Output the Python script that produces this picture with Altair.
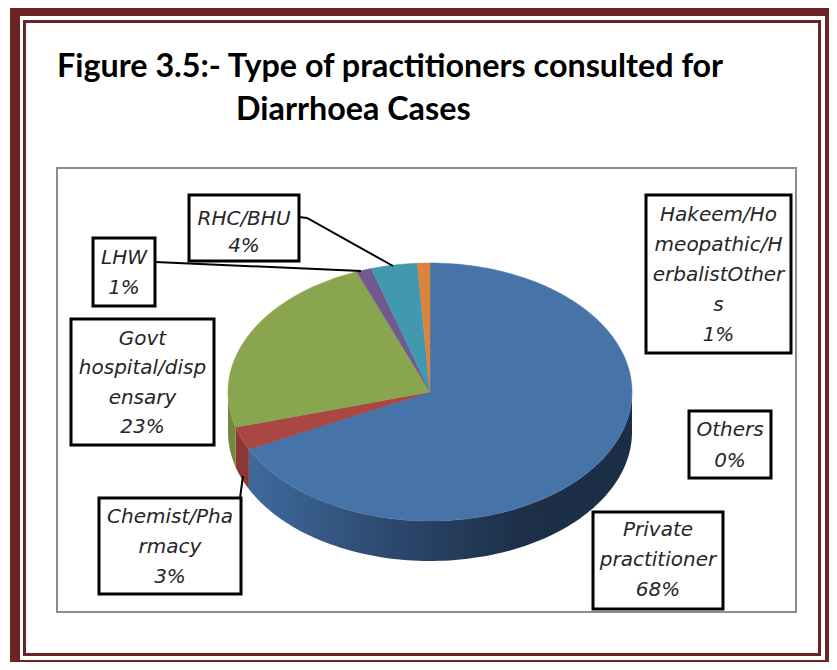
import math
import altair as alt
import pandas as pd

# ---- data
categories = ["Private practitioner", "Chemist/Pharmacy", "Govt hospital/dispensary", "LHW", "RHC/BHU", "Hakeem/Homeopathic/HerbalistOthers", "Others"]
shares = [67.7, 2.9, 23.5, 1.2, 3.7, 1.0, 0.0]
top_colors = ["#4674A8", "#AA4643", "#89A54E", "#71588F", "#4198AF", "#DB843D", "#DB843D"]
wall_colors = [None, "#8A3836", "#72883F", "#5A4672", "#347A8C", "#AF6A31", "#AF6A31"]

title_lines = ["Figure 3.5:- Type of practitioners consulted for", "Diarrhoea Cases"]
title_x = [57, 236]
title_y = [67, 110]

box_left = [593, 99, 71, 93, 189, 646, 689]
box_right = [723, 241, 214, 155, 299, 791, 771]
box_top = [512, 498, 319, 238, 195, 195, 411]
box_bottom = [609, 594, 445, 306, 261, 353, 478]
box_lines = [
    ["Private", "practitioner", "68%"],
    ["Chemist/Pha", "rmacy", "3%"],
    ["Govt", "hospital/disp", "ensary", "23%"],
    ["LHW", "1%"],
    ["RHC/BHU", "4%"],
    ["Hakeem/Ho", "meopathic/H", "erbalistOther", "s", "1%"],
    ["Others", "0%"],
]
line_gap = [30, 30, 29.5, 30, 27, 30, 30.5]
line_mid = [560, 547, 383, 273, 232.5, 275, 445.5]
leader_x = [[299, 307, 393], [155, 361], [240, 243]]
leader_y = [[217, 218, 266], [262, 271], [498, 476]]

CX, CY, RX, RY, DEPTH = 430, 392, 202, 129, 40
W, H = 821, 654
DOMX = [8, 8 + W]
DOMY = [8 + H, 8]
DARK = "#6B2426"


def X(f="x"):
    return alt.X(f"{f}:Q", scale=alt.Scale(domain=DOMX, nice=False, zero=False), axis=None)


def Y(f="y"):
    return alt.Y(f"{f}:Q", scale=alt.Scale(domain=DOMY, nice=False, zero=False), axis=None)


def ell(theta_deg):
    t = math.radians(theta_deg)
    return CX + RX * math.sin(t), CY - RY * math.cos(t)


layers = []

# page frame
frame = pd.DataFrame({
    "x": [10, 20, 23, 26], "x2": [829, 825, 821, 818],
    "y": [8, 16, 20, 23], "y2": [662, 660, 656, 653],
    "c": [DARK, "#FFFFFF", DARK, "#FFFFFF"], "o": [0, 1, 2, 3],
})
for _, r in frame.iterrows():
    layers.append(alt.Chart(pd.DataFrame([r])).mark_rect(color=r["c"]).encode(
        x=X(), x2="x2:Q", y=Y(), y2="y2:Q"))

# plot-area frame
layers.append(alt.Chart(pd.DataFrame({"x": [57], "x2": [796], "y": [168], "y2": [612]})).mark_rect(
    fill="#FFFFFF", stroke="#8C8C8C", strokeWidth=2).encode(x=X(), x2="x2:Q", y=Y(), y2="y2:Q"))

# slice angles
starts, ends = [], []
acc = 0.0
for s in shares:
    starts.append(acc * 3.6)
    acc += s
    ends.append(acc * 3.6)

# side wall of the pie
for i, cat in enumerate(categories):
    a, b = max(starts[i], 90), min(ends[i], 270)
    if b <= a:
        continue
    n = max(2, int((b - a) / 1.5))
    rows = []
    for k in range(n + 1):
        x, y = ell(a + (b - a) * k / n)
        rows.append({"x": x, "y": y, "y2": y + DEPTH})
    df = pd.DataFrame(rows).sort_values("x")
    if wall_colors[i] is None:
        fill = alt.Gradient(gradient="linear", x1=0, x2=1, y1=0, y2=0, stops=[
            alt.GradientStop(color="#3F6A9C", offset=0),
            alt.GradientStop(color="#2B466B", offset=0.4),
            alt.GradientStop(color="#1C2F47", offset=0.72),
            alt.GradientStop(color="#1B2E46", offset=1),
        ])
    else:
        fill = wall_colors[i]
    layers.append(alt.Chart(df).mark_area(color=fill, interpolate="linear").encode(
        x=X(), y=Y(), y2="y2:Q"))

# top face of the pie
for i, cat in enumerate(categories):
    if shares[i] <= 0:
        continue
    a, b = starts[i], ends[i]
    n = max(2, int((b - a) / 1.5))
    rows = [{"x": CX, "y": CY, "o": 0, "cat": cat}]
    for k in range(n + 1):
        x, y = ell(a + (b - a) * k / n)
        rows.append({"x": x, "y": y, "o": k + 1, "cat": cat})
    rows.append({"x": CX, "y": CY, "o": n + 2, "cat": cat})
    layers.append(alt.Chart(pd.DataFrame(rows)).mark_line(
        fill=top_colors[i], stroke=top_colors[i], strokeWidth=0.5, interpolate="linear").encode(
        x=X(), y=Y(), order="o:Q"))

# leader lines
for lx, ly in zip(leader_x, leader_y):
    df = pd.DataFrame({"x": lx, "y": ly, "o": list(range(len(lx)))})
    layers.append(alt.Chart(df).mark_line(color="#000000", strokeWidth=2).encode(
        x=X(), y=Y(), order="o:Q"))

# label boxes
boxes = pd.DataFrame({"x": box_left, "x2": box_right, "y": box_top, "y2": box_bottom, "cat": categories})
layers.append(alt.Chart(boxes).mark_rect(fill="#FFFFFF", stroke="#000000", strokeWidth=3).encode(
    x=X(), x2="x2:Q", y=Y(), y2="y2:Q"))

# label text
rows = []
for i, lines in enumerate(box_lines):
    cx = (box_left[i] + box_right[i]) / 2
    for j, t in enumerate(lines):
        rows.append({"x": cx, "y": line_mid[i] + (j - (len(lines) - 1) / 2) * line_gap[i], "t": t})
layers.append(alt.Chart(pd.DataFrame(rows)).mark_text(
    font="DejaVu Sans", fontStyle="italic", fontSize=20, color="#262626", align="center", baseline="middle"
).encode(x=X(), y=Y(), text="t:N"))

# heading
head = pd.DataFrame({"x": title_x, "y": title_y, "t": title_lines})
layers.append(alt.Chart(head).mark_text(
    font="Lato", fontWeight="bold", fontSize=32.3, color="#000000", align="left", baseline="middle"
).encode(x=X(), y=Y(), text="t:N"))

chart = alt.layer(*layers).properties(
    width=W, height=H, padding=0, autosize=alt.AutoSizeParams(type="none"), background="#FFFFFF"
).configure_view(stroke=None)

chart.save("out.html", embed_options={"renderer": "svg", "actions": False})
